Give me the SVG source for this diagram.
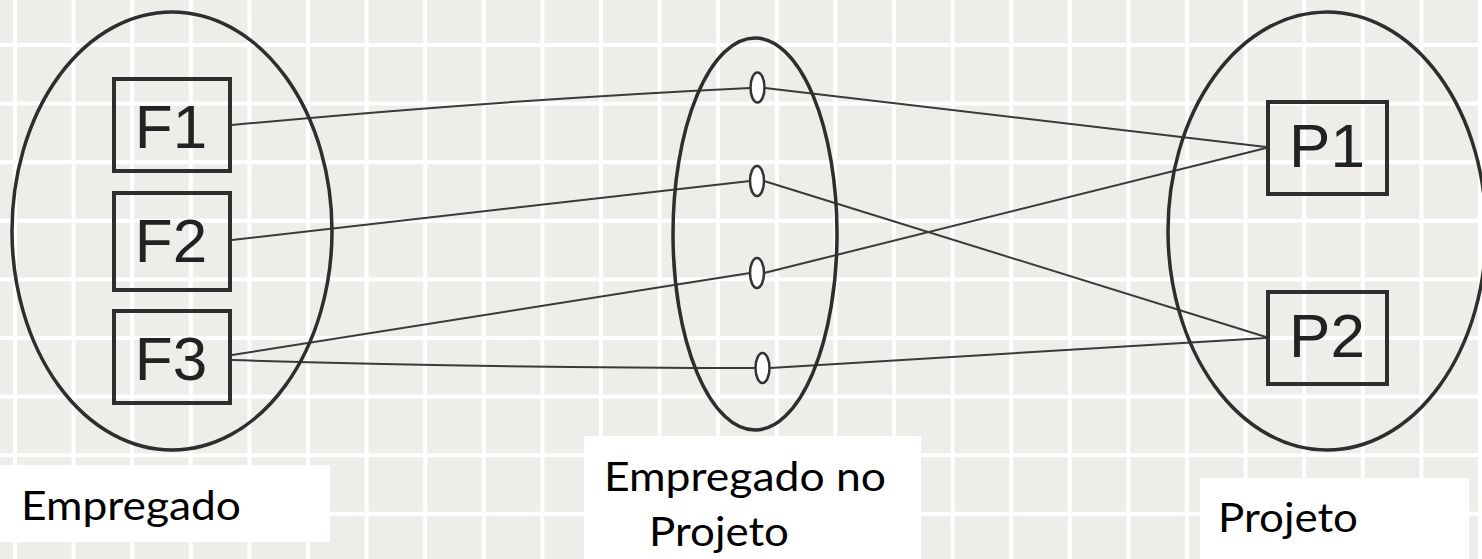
<svg xmlns="http://www.w3.org/2000/svg" width="1482" height="559" viewBox="0 0 1482 559">
<style>
.set{fill:none;stroke:#2e2e2e;stroke-width:3.5}
.box{fill:none;stroke:#2e2e2e;stroke-width:4}
.lbl{font-family:"Liberation Sans",Arial,sans-serif;font-size:62px;fill:#222;text-anchor:middle}
.cap{font-family:Lato,"Open Sans",sans-serif;font-size:41.5px;fill:#000}
.con{fill:none;stroke:#3a3a3a;stroke-width:2}
.dot{fill:#fff;stroke:#333;stroke-width:2.5}
</style>
<defs>
<pattern id="grid" x="13" y="43" width="58.6" height="58.6" patternUnits="userSpaceOnUse">
<rect width="58.6" height="58.6" fill="#ffffff"/>
<rect x="4" y="4" width="54.6" height="54.6" fill="#efedea"/>
</pattern>
</defs>
<rect width="1482" height="559" fill="url(#grid)"/>
<g id="connectors">
<path class="con" d="M232,125 Q500,100 750,88"/>
<line class="con" x1="765" y1="88" x2="1266" y2="147"/>
<line class="con" x1="232" y1="240" x2="750" y2="181"/>
<line class="con" x1="764" y1="181" x2="1266" y2="337"/>
<line class="con" x1="232" y1="355" x2="750" y2="273"/>
<line class="con" x1="764" y1="273" x2="1266" y2="148"/>
<path class="con" d="M232,360 Q500,368 755,368"/>
<line class="con" x1="770" y1="368" x2="1266" y2="338"/>
</g>
<g id="empregado">
<ellipse class="set" cx="172" cy="231" rx="160" ry="219"/>
</g>
<g id="empregado-no-projeto">
<ellipse class="set" cx="755" cy="234" rx="82" ry="196"/>
</g>
<g id="projeto">
<ellipse class="set" cx="1327" cy="231" rx="159" ry="219"/>
</g>
<g id="F1"><rect class="box" x="114" y="79" width="116" height="92"/><text class="lbl" x="171" y="148">F1</text></g>
<g id="F2"><rect class="box" x="114" y="193" width="116" height="97"/><text class="lbl" x="171" y="262">F2</text></g>
<g id="F3"><rect class="box" x="114" y="311" width="116" height="92"/><text class="lbl" x="171" y="380">F3</text></g>
<g id="P1"><rect class="box" x="1268" y="102" width="119" height="92"/><text class="lbl" x="1327" y="167">P1</text></g>
<g id="P2"><rect class="box" x="1268" y="292" width="119" height="92"/><text class="lbl" x="1327" y="357">P2</text></g>
<g id="o1"><ellipse class="dot" cx="757.5" cy="87.5" rx="7" ry="15"/></g>
<g id="o2"><ellipse class="dot" cx="757" cy="181" rx="7" ry="15"/></g>
<g id="o3"><ellipse class="dot" cx="757" cy="273" rx="7" ry="15"/></g>
<g id="o4"><ellipse class="dot" cx="762.5" cy="368" rx="7" ry="15"/></g>
<g id="label-empregado">
<rect x="0" y="465" width="330" height="77" fill="#fff"/>
<text class="cap" x="21" y="520" textLength="220" lengthAdjust="spacingAndGlyphs">Empregado</text>
</g>
<g id="label-empregado-no-projeto">
<rect x="584" y="436" width="337" height="123" fill="#fff"/>
<text class="cap" x="604" y="491" textLength="282" lengthAdjust="spacingAndGlyphs">Empregado no</text>
<text class="cap" x="649" y="546" textLength="140" lengthAdjust="spacingAndGlyphs">Projeto</text>
</g>
<g id="label-projeto">
<rect x="1200" y="478" width="269" height="81" fill="#fff"/>
<text class="cap" x="1218" y="532" textLength="140" lengthAdjust="spacingAndGlyphs">Projeto</text>
</g>
</svg>
